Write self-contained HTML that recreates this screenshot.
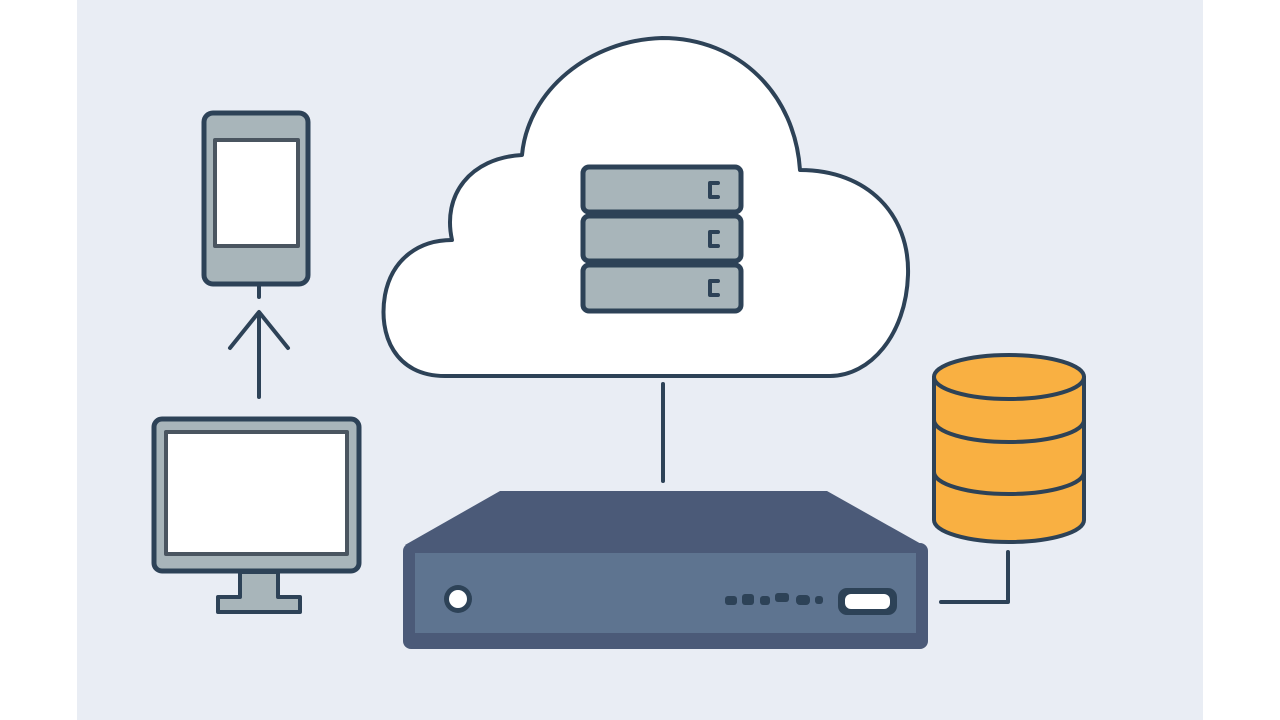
<!DOCTYPE html>
<html><head><meta charset="utf-8"><style>html,body{margin:0;padding:0;background:#fff}svg{display:block}</style></head>
<body>
<svg width="1280" height="720" viewBox="0 0 1280 720" xmlns="http://www.w3.org/2000/svg">
<rect x="0" y="0" width="1280" height="720" fill="#fff"/>
<rect x="77" y="0" width="1126" height="720" fill="#e9edf4"/>
<g stroke="#2d4257" stroke-width="5" stroke-linecap="round" stroke-linejoin="round">
<!-- phone -->
<rect x="204" y="113" width="104" height="171" rx="9" fill="#a8b5ba"/>
<rect x="215" y="140" width="83" height="106" fill="#fff" stroke="#4a5560" stroke-width="4"/>
<line x1="259" y1="285" x2="259" y2="297" stroke-width="4"/>
<line x1="259" y1="314" x2="259" y2="397" stroke-width="4"/>
<polyline points="230,348 259,312 288,348" fill="none" stroke-width="4"/>
<!-- monitor -->
<path d="M240 572 V597 H218 V612 H300 V597 H278 V572 Z" fill="#a8b5ba" stroke-width="4"/>
<rect x="154" y="419" width="205" height="152" rx="8" fill="#a8b5ba"/>
<rect x="166" y="432" width="181" height="122" fill="#fff" stroke="#4a5560" stroke-width="4"/>
<!-- cloud -->
<path d="M445 376 C395 376 378 335 385 295 C392 258 420 240 452 240 C442 195 470 158 522 155 C528 90 590 40 662 38 C740 38 795 95 800 170 C868 170 910 215 908 275 C906 335 870 376 830 376 Z" fill="#fff" stroke-width="4"/>
<rect x="583" y="167" width="158" height="45" rx="6" fill="#a8b5ba"/>
<rect x="583" y="216" width="158" height="45" rx="6" fill="#a8b5ba"/>
<rect x="583" y="265" width="158" height="46" rx="6" fill="#a8b5ba"/>
<path d="M718 183 H710 V197 H718" fill="none" stroke-width="4"/>
<path d="M718 232 H710 V246 H718" fill="none" stroke-width="4"/>
<path d="M718 281 H710 V295 H718" fill="none" stroke-width="4"/>
<line x1="663" y1="384" x2="663" y2="481" stroke-width="4"/>
<!-- db connector -->
<polyline points="1008,552 1008,602 941,602" fill="none" stroke-width="4"/>
<!-- database -->
<path d="M934 377 V520 A75 22 0 0 0 1084 520 V377" fill="#f9b042" stroke-width="4"/>
<ellipse cx="1009" cy="377" rx="75" ry="22" fill="#f9b042" stroke-width="4"/>
<path d="M934 420 A75 22 0 0 0 1084 420" fill="none" stroke-width="4"/>
<path d="M934 472 A75 22 0 0 0 1084 472" fill="none" stroke-width="4"/>
</g>
<!-- router -->
<path d="M500 491 H827 L923 545 H405 Z" fill="#4b5a78"/>
<rect x="403" y="543" width="525" height="106" rx="8" fill="#4b5a78"/>
<rect x="415" y="553" width="501" height="80" fill="#5e7490"/>
<circle cx="458" cy="599" r="14" fill="#2d4257"/>
<circle cx="458" cy="599" r="9" fill="#fff"/>
<g fill="#2d4257"><rect x="725" y="596" width="12" height="9" rx="3"/><rect x="742" y="594" width="12" height="11" rx="3"/><rect x="760" y="596" width="10" height="9" rx="3"/><rect x="775" y="593" width="14" height="9" rx="3"/><rect x="796" y="595" width="14" height="10" rx="4"/><rect x="815" y="596" width="8" height="8" rx="3"/></g>
<rect x="838" y="588" width="59" height="27" rx="9" fill="#2d4257"/>
<rect x="845" y="594" width="45" height="15" rx="6" fill="#fff"/>
</svg>
</body></html>
